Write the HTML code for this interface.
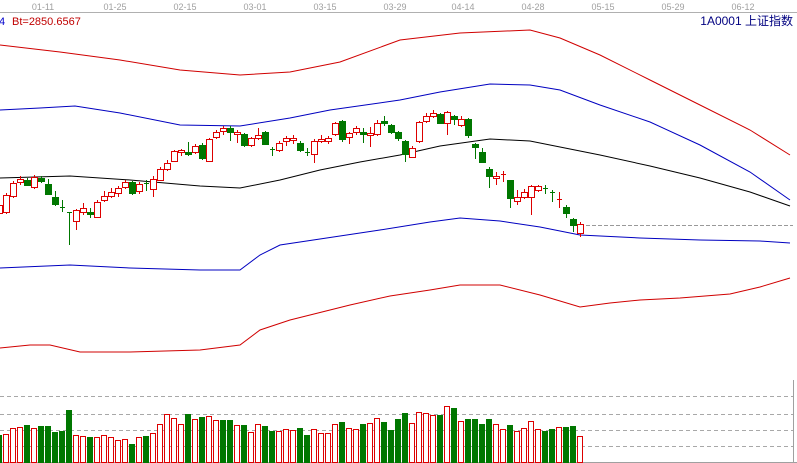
<!DOCTYPE html>
<html><head><meta charset="utf-8"><style>
html,body{margin:0;padding:0;background:#fff;width:797px;height:463px;overflow:hidden}
svg{display:block}
</style></head><body>
<svg id="s" width="797" height="463" xmlns="http://www.w3.org/2000/svg" shape-rendering="crispEdges">
<g font-family="Liberation Sans, sans-serif" font-size="9" fill="#a0a0a0" text-anchor="middle">
<text x="43" y="10">01-11</text><text x="115" y="10">01-25</text><text x="185" y="10">02-15</text>
<text x="255" y="10">03-01</text><text x="325" y="10">03-15</text><text x="395" y="10">03-29</text>
<text x="463" y="10">04-14</text><text x="533" y="10">04-28</text><text x="603" y="10">05-15</text>
<text x="673" y="10">05-29</text><text x="743" y="10">06-12</text>
</g>
<line x1="0" y1="12.5" x2="797" y2="12.5" stroke="#b0b0b0"/>
<text x="-1" y="25" font-family="Liberation Sans, sans-serif" font-size="11" fill="#0000cc">4</text>
<text x="12" y="25" font-family="Liberation Sans, sans-serif" font-size="11" fill="#c00000">Bt=2850.6567</text>
<text x="793" y="25" text-anchor="end" font-family="Liberation Sans, 'Noto Sans CJK SC', sans-serif" font-size="12" fill="#000080">1A0001  上证指数</text>
<g fill="none" stroke-width="1" shape-rendering="auto">
<polyline stroke="#d00000" points="0,45 60,52 120,60 180,70 240,75 290,72 340,62 400,40 460,33 530,30 560,38 600,55 650,80 700,105 750,130 790,155"/>
<polyline stroke="#0000c0" points="0,110 40,108 75,106 120,113 180,125 240,126 290,118 330,110 400,100 440,92 490,84 530,85 560,90 600,105 650,122 700,145 750,172 790,200"/>
<polyline stroke="#000" points="0,178 70,176 130,180 200,186 240,188 280,180 320,170 360,162 400,155 440,146 490,139 530,141 560,147 600,155 650,166 700,178 750,192 790,206"/>
<polyline stroke="#0000c0" points="0,268 70,265 130,268 200,270 240,270 260,255 280,245 340,236 380,230 430,222 460,218 500,221 540,227 580,235 640,238 700,240 760,241 790,243"/>
<polyline stroke="#d00000" points="0,348 30,345 50,345 80,352 130,352 200,350 240,345 260,330 290,320 350,305 390,296 430,290 460,285 500,285 540,295 580,307 610,303 640,300 680,298 730,294 760,287 790,278"/>
</g>
<line x1="580" y1="225.5" x2="793" y2="225.5" stroke="#999" stroke-dasharray="4,2"/>
<g stroke="#a8a8a8" stroke-dasharray="4,3">
<line x1="0" y1="396.5" x2="793" y2="396.5"/><line x1="0" y1="414.5" x2="793" y2="414.5"/>
<line x1="0" y1="430.5" x2="793" y2="430.5"/><line x1="0" y1="446.5" x2="793" y2="446.5"/>
</g>
<line x1="793.5" y1="380" x2="793.5" y2="463" stroke="#a0a0a0"/>
<line x1="0" y1="462.5" x2="797" y2="462.5" stroke="#a0a0a0"/>
<g id="c"></g><g id="v"></g>
</svg>
<script>
var R="#dd0000",G="#007700",ns="http://www.w3.org/2000/svg";
// [x, top, bot, hi, lo, r/g]
var C=[[-1,205,213,200,216,'r'],[6,195,212,193,214,'r'],[13,183,196,181,198,'r'],[20,179,182,176,185,'r'],[27,180,185,178,186,'g'],[34,177,187,175,189,'r'],
[41,178,181,176,183,'g'],[48,184,194,179,195,'g'],[55,197,204,191,206,'g'],[62,207,208,200,212,'g'],[69,212,213,212,245,'g'],[76,210,221,209,230,'r'],
[83,208,212,203,215,'r'],[90,212,214,208,218,'g'],[97,202,217,200,218,'r'],[104,196,200,191,202,'r'],[111,192,196,188,198,'r'],[118,188,193,186,197,'r'],
[125,182,187,180,189,'r'],[132,182,193,181,195,'g'],[139,184,191,182,194,'r'],[146,183,184,180,191,'g'],[153,179,189,176,197,'r'],[160,169,180,167,181,'r'],
[167,163,169,160,171,'r'],[174,151,161,150,162,'r'],[181,150,152,149,156,'r'],[188,152,154,142,156,'g'],[195,146,152,144,154,'r'],[202,145,158,143,160,'g'],
[209,139,161,138,162,'r'],[216,132,137,130,139,'r'],[223,128,131,126,135,'r'],[230,128,132,126,141,'g'],[237,132,134,130,143,'r'],[244,134,145,133,147,'g'],
[251,138,145,137,147,'r'],[258,135,138,128,140,'r'],[265,132,144,131,145,'g'],[272,149,150,147,156,'g'],[279,143,150,141,152,'r'],[286,138,141,136,146,'r'],
[293,138,140,135,144,'r'],[300,143,150,141,152,'g'],[307,152,153,148,156,'g'],[314,141,154,139,163,'r'],[321,139,141,135,143,'r'],[328,138,141,136,144,'r'],
[335,123,134,122,136,'r'],[342,121,139,120,142,'g'],[349,133,137,132,144,'r'],[356,128,132,126,135,'r'],[363,132,134,128,143,'g'],[370,133,135,127,147,'r'],
[377,123,134,120,136,'r'],[384,121,123,116,126,'g'],[391,125,132,124,134,'g'],[398,132,138,131,141,'g'],[405,141,154,140,162,'g'],[412,148,157,146,157,'r'],
[419,122,141,121,143,'r'],[426,116,121,113,123,'r'],[433,113,116,110,118,'r'],[440,114,123,113,124,'g'],[447,112,123,111,135,'r'],[454,116,119,115,125,'g'],
[461,119,125,116,127,'r'],[468,119,135,118,138,'g'],[475,144,147,143,159,'g'],[482,152,162,148,163,'g'],[489,169,176,167,188,'g'],[496,176,178,172,185,'r'],
[503,174,175,171,182,'r'],[510,180,198,180,208,'g'],[517,197,201,190,205,'r'],[524,192,197,189,199,'r'],[531,186,197,185,215,'r'],[538,186,190,185,192,'r'],
[545,188,189,185,194,'g'],[552,192,193,190,202,'g'],[559,199,200,192,208,'r'],[566,207,213,205,218,'g'],[573,219,225,218,232,'g'],[580,224,233,222,237,'r']];
var c=document.getElementById('c');
function el(n,a){var e=document.createElementNS(ns,n);for(var k in a)e.setAttribute(k,a[k]);return e;}
C.forEach(function(d){var col=d[5]=='r'?R:G,x=d[0];
c.appendChild(el('line',{x1:x+.5,y1:d[3],x2:x+.5,y2:d[4],stroke:col}));
if(d[2]-d[1]<=1){c.appendChild(el('line',{x1:x-2,y1:d[1]+.5,x2:x+3,y2:d[1]+.5,stroke:col}));}
else if(d[5]=='r'){c.appendChild(el('rect',{x:x-2.5,y:d[1]+.5,width:6,height:d[2]-d[1],fill:'#fff',stroke:col}));}
else{c.appendChild(el('rect',{x:x-3,y:d[1],width:7,height:d[2]-d[1]+1,fill:col}));}
});
var V=[[435,'g'],[434,'r'],[428,'r'],[427,'r'],[425,'g'],[428,'r'],[426,'g'],[426,'g'],[432,'g'],[431,'g'],[410,'g'],[435,'r'],[436,'r'],[437,'g'],[437,'r'],[435,'r'],[437,'r'],[440,'r'],[439,'r'],[444,'g'],[437,'r'],[436,'g'],[433,'r'],[424,'r'],[414,'r'],[418,'r'],[424,'r'],[414,'g'],[419,'r'],[417,'g'],[416,'r'],[420,'r'],[420,'g'],[420,'g'],[425,'r'],[425,'g'],[432,'r'],[424,'r'],[426,'g'],[431,'g'],[431,'r'],[429,'r'],[430,'r'],[428,'g'],[435,'g'],[429,'r'],[433,'r'],[433,'r'],[424,'r'],[422,'g'],[428,'r'],[429,'r'],[424,'g'],[423,'r'],[418,'r'],[422,'g'],[430,'g'],[419,'g'],
[413,'g'],[423,'r'],[412,'r'],[413,'r'],[415,'r'],[415,'g'],[406,'r'],[408,'g'],[421,'r'],[419,'g'],[419,'g'],[424,'g'],[419,'g'],[424,'r'],[429,'r'],[425,'g'],[431,'r'],[428,'r'],[421,'r'],[429,'r'],[431,'g'],[429,'g'],[427,'r'],[427,'g'],[426,'g'],[436,'r']];
var v=document.getElementById('v');
V.forEach(function(d,i){var x=-1+7*i;
if(d[1]=='r')v.appendChild(el('rect',{x:x-2.5,y:d[0]+.5,width:5,height:462-d[0],fill:'#fff',stroke:R}));
else v.appendChild(el('rect',{x:x-3,y:d[0],width:6,height:463-d[0],fill:G}));});
</script>
</body></html>
